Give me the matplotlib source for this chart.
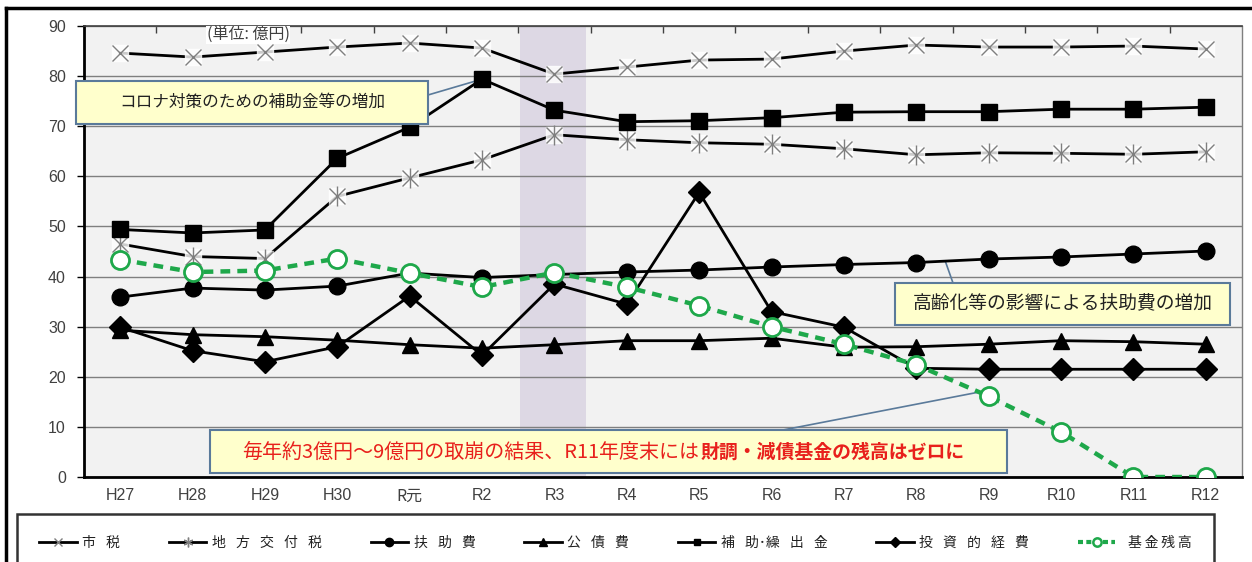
import matplotlib.pyplot as plt
from matplotlib.lines import Line2D
from matplotlib.patches import Rectangle

W, H = 1252, 562

years = ['H27', 'H28', 'H29', 'H30', 'R元', 'R2', 'R3', 'R4',
         'R5', 'R6', 'R7', 'R8', 'R9', 'R10', 'R11', 'R12']
shizei = [84.6, 83.8, 84.8, 85.8, 86.6, 85.6, 80.4, 81.8, 83.2, 83.4, 85.0, 86.2, 85.8, 85.8, 86.0, 85.4]
koufuzei = [46.5, 44.0, 43.6, 56.0, 59.7, 63.3, 68.3, 67.3, 66.7, 66.4, 65.5, 64.3, 64.7, 64.6, 64.4, 64.9]
fujohi = [35.9, 37.7, 37.3, 38.1, 40.7, 39.8, 40.4, 40.9, 41.3, 41.9, 42.4, 42.8, 43.5, 43.9, 44.5, 45.1]
kosaihi = [29.3, 28.4, 28.0, 27.3, 26.4, 25.7, 26.4, 27.2, 27.2, 27.7, 25.9, 26.0, 26.5, 27.2, 27.0, 26.5]
hojo = [49.4, 48.7, 49.3, 63.6, 69.8, 79.4, 73.2, 70.9, 71.1, 71.7, 72.8, 72.9, 72.9, 73.4, 73.4, 73.8]
toshi = [29.9, 25.2, 23.0, 26.0, 36.1, 24.3, 38.5, 34.5, 56.8, 33.0, 29.9, 21.7, 21.5, 21.5, 21.5, 21.5]
kikin = [43.4, 40.9, 41.2, 43.6, 40.7, 37.9, 40.8, 37.9, 34.2, 30.0, 26.5, 22.4, 16.1, 9.0, 0.0, 0.0]

legend_labels = ['市 税', '地 方 交 付 税', '扶 助 費', '公 債 費',
                 '補 助･繰 出 金', '投 資 的 経 費', '基金残高']

JP = ['Noto Sans CJK JP', 'DejaVu Sans']
NUM = ['Liberation Sans Narrow', 'Liberation Sans', 'DejaVu Sans']
GRAY = '#7f7f7f'
GREEN = '#1ea84a'
RED = '#e8201c'
BOX_FILL = '#ffffcc'
BOX_EDGE = '#5a7a9a'

plt.rcParams['font.family'] = JP

fig = plt.figure(figsize=(W / 100, H / 100), dpi=100)
ax = fig.add_axes([84 / W, 1 - 477 / H, (1242 - 84) / W, (477 - 26) / H])
ax.set_facecolor('#f2f2f2')

x = list(range(len(years)))

# highlighted year
ax.axvspan(5.53, 6.43, color='#ddd8e4', zorder=0.5, lw=0)

lw = 2.0
# 市税 : gray crosses with a white patch behind
ax.plot(x, shizei, color='black', lw=lw, zorder=3)
ax.plot(x, shizei, ls='none', marker='s', ms=11, color='white', alpha=0.8, zorder=3.5)
ax.plot(x, shizei, ls='none', marker='x', ms=12, mew=1.0, color=GRAY, zorder=4)

# 地方交付税 : gray asterisks
ax.plot(x, koufuzei, color='black', lw=lw, zorder=3)
ax.plot(x, koufuzei, ls='none', marker='s', ms=11, color='white', alpha=0.8, zorder=3.5)
ax.plot(x, koufuzei, ls='none', marker='x', ms=12, mew=1.0, color=GRAY, zorder=4)
ax.plot(x, koufuzei, ls='none', marker='|', ms=15, mew=1.0, color=GRAY, zorder=4)

ax.plot(x, fujohi, color='black', lw=lw, marker='o', ms=12, zorder=4)
ax.plot(x, kosaihi, color='black', lw=lw, marker='^', ms=12, zorder=4)
ax.plot(x, hojo, color='black', lw=lw, marker='s', ms=12, zorder=4)
ax.plot(x, toshi, color='black', lw=lw, marker='D', ms=11, zorder=4)
ax.plot(x, kikin, color=GREEN, lw=3.2, ls=(0, (2.2, 1.6)), marker='o', ms=13,
        mfc='white', mec=GREEN, mew=2, zorder=5)

ax.set_xlim(-0.5, len(years) - 0.5)
ax.set_ylim(0, 90)
ax.set_yticks(range(0, 91, 10))
ax.set_xticks(x)
ax.set_xticklabels(years)
ax.grid(axis='y', color='#7f7f7f', lw=1)
ax.set_axisbelow(True)
ax.tick_params(axis='y', length=5, width=1, color='black', labelcolor='#404040',
               labelsize=11.5, pad=8)
ax.tick_params(axis='x', length=0, labelcolor='#404040', labelsize=11.5, pad=8)
for lab in ax.get_xticklabels() + ax.get_yticklabels():
    lab.set_family(NUM + JP)
for lab in ax.get_xticklabels():
    if lab.get_text() == 'R元':
        lab.set_family(JP)

for side in ['left', 'bottom']:
    ax.spines[side].set_linewidth(2)
    ax.spines[side].set_color('black')
ax.spines['top'].set_color('#404040')
ax.spines['top'].set_linewidth(1.2)
ax.spines['right'].set_color('#7f7f7f')
ax.spines['right'].set_linewidth(1)

top = ax.secondary_xaxis('top')
top.set_xticks([i + 0.5 for i in x[:-1]])
top.tick_params(direction='in', length=5, width=1, color='#404040', labeltop=False)
top.spines['top'].set_visible(False)

# unit label
ax.text(1.77, 88.2, '(単位: 億円)', fontsize=11.5, color='#404040', ha='center', va='center',
        zorder=8, bbox=dict(facecolor='white', edgecolor='none', pad=0.5))


def box(x0, y0, x1, y1, text, **kw):
    fig.patches.append(Rectangle((x0 / W, 1 - y1 / H), (x1 - x0) / W, (y1 - y0) / H,
                                 transform=fig.transFigure, facecolor=BOX_FILL,
                                 edgecolor=BOX_EDGE, lw=1.5, zorder=10))
    return fig.text((x0 + x1) / 2 / W, 1 - (y0 + y1) / 2 / H, text,
                    ha='center', va='center', zorder=11, **kw)


def leader(xy, start):
    ax.annotate('', xy=xy, xycoords='data', xytext=(start[0], H - start[1]),
                textcoords='figure pixels', zorder=3.2,
                arrowprops=dict(arrowstyle='-', color=BOX_EDGE, lw=1.2,
                                shrinkA=0, shrinkB=0))


leader((5, hojo[5]), (428, 95))
box(76, 81, 428, 124, 'コロナ対策のための補助金等の増加', fontsize=12, color='#222222')

frac = 0.4
leader((11 + frac, fujohi[11] + frac * (fujohi[12] - fujohi[11])), (953, 283))
box(895, 283, 1230, 325, '高齢化等の影響による扶助費の増加', fontsize=13.5, color='#222222')

leader((12 - 0.15, kikin[12] + 0.8), (783, 430))
box(210, 430, 1007, 473, '')
fig.text(699 / W, 1 - 452 / H, '毎年約3億円～9億円の取崩の結果、R11年度末には',
         ha='right', va='center', color=RED, fontsize=14.4, zorder=11)
fig.text(701 / W, 1 - 452 / H, '財調・減債基金の残高はゼロに',
         ha='left', va='center', color=RED, fontsize=13.6, fontweight='bold', zorder=11)

# legend
handles = [
    Line2D([], [], color='black', lw=2, marker='x', ms=6, mec=GRAY, mew=1),
    Line2D([], [], color='black', lw=2, marker=(6, 2, 0), ms=7, mec=GRAY, mew=1),
    Line2D([], [], color='black', lw=2, marker='o', ms=6),
    Line2D([], [], color='black', lw=2, marker='^', ms=6),
    Line2D([], [], color='black', lw=2, marker='s', ms=5),
    Line2D([], [], color='black', lw=2, marker='D', ms=5),
    Line2D([], [], color=GREEN, lw=3, ls=(0, (1.2, 0.8)), marker='o', ms=6,
           mfc='white', mec=GREEN, mew=1.8),
]
spaced = [s.replace(' ', '\u2002 ') for s in legend_labels[:-1]]
spaced.append('\u2002' + '\u2009'.join(legend_labels[-1]))
leg = fig.legend(handles, spaced, loc='upper left', ncol=7, mode='expand',
                 bbox_to_anchor=(17 / W, -0.2, (1214 - 17) / W, 0.2 + (562 - 514) / H),
                 frameon=True, fancybox=False, edgecolor='black', fontsize=10,
                 handlelength=2.7, handletextpad=0.4, borderpad=1.6, borderaxespad=0)
leg.get_frame().set_linewidth(1.8)
for t in leg.get_texts():
    t.set_color('#222222')

# outer frame
fig.add_artist(Line2D([6 / W, 6 / W], [0, 1 - 8 / H], transform=fig.transFigure,
                      color='black', lw=2.5))
fig.add_artist(Line2D([6 / W, 1250 / W], [1 - 8 / H, 1 - 8 / H], transform=fig.transFigure,
                      color='black', lw=2.5))

fig.savefig('out.png', dpi=100)
